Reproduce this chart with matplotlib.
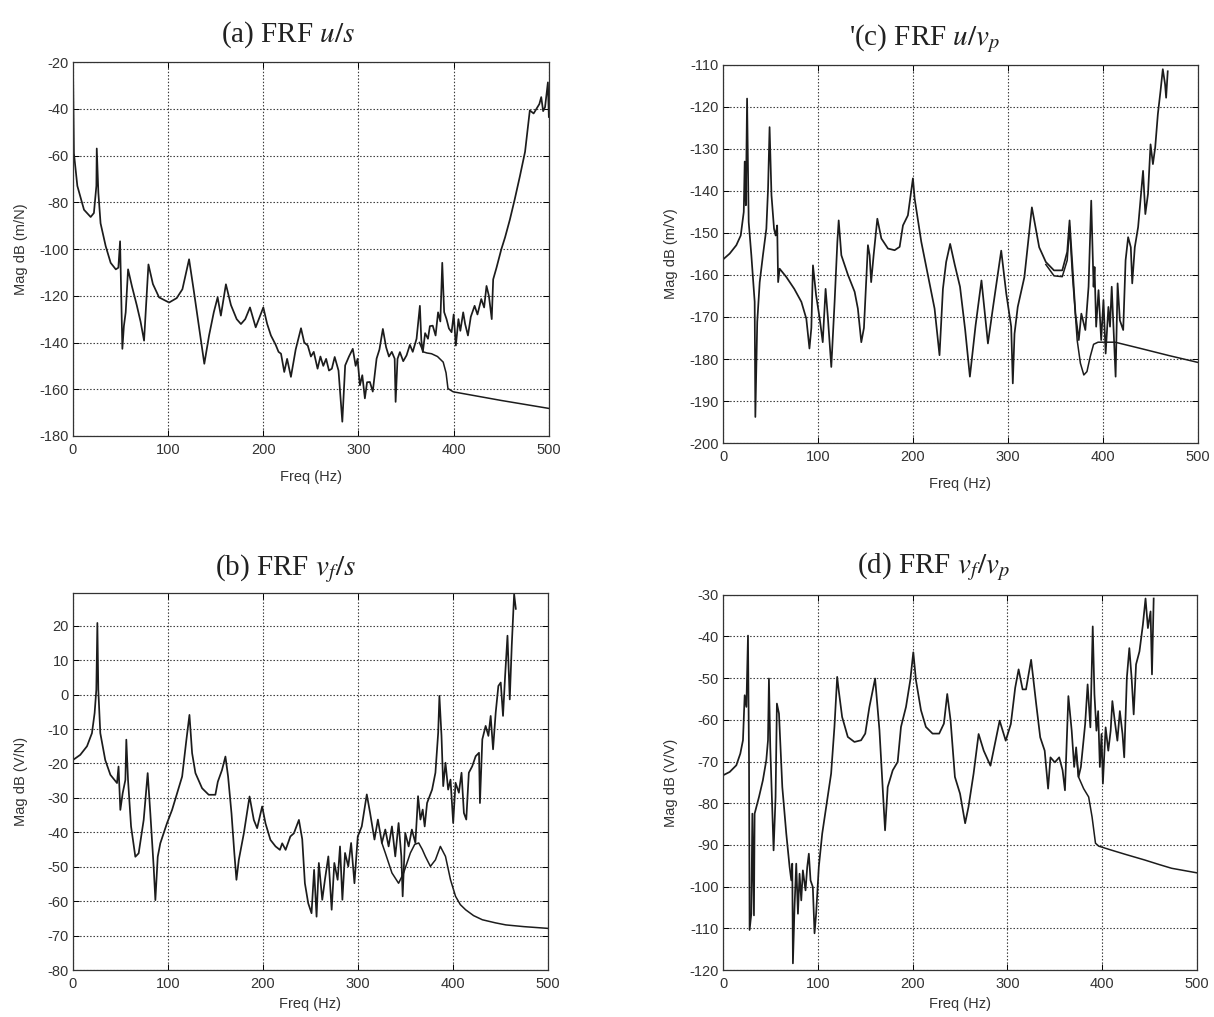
import matplotlib
matplotlib.use('Agg')
import matplotlib.pyplot as plt
import numpy as np

plt.rcParams['font.family'] = ['Liberation Sans', 'DejaVu Sans']
plt.rcParams['mathtext.fontset'] = 'stix'
plt.rcParams['axes.unicode_minus'] = False

# (freq Hz, magnitude dB)
# panel (a) FRF u/s : measured curve and model curve where it departs
a_meas = [(0, -20), (1, -59), (4.6, -73), (11.6, -83.2), (18.6, -86.3), (22, -84.6), (24.6, -73),
          (25, -57), (26.7, -76), (29, -89), (34.4, -98.8), (39.6, -105.9), (45, -108.7), (47.7, -108),
          (49.5, -96.7), (51.9, -142.7), (53.5, -133), (55.4, -127.1), (57.9, -108.7), (62, -116),
          (67, -124), (71, -131), (74.7, -139.2), (79.3, -106.6), (84, -115), (90.5, -120.7),
          (101, -122.9), (109, -121), (115, -117.2), (122, -104.4), (127, -118), (132, -132),
          (138, -149.1), (143, -137), (148, -127), (152, -120.7), (155.4, -128.5), (160.7, -115.1),
          (166, -124), (172, -130), (176.5, -132.1), (181, -130), (186, -125), (192, -133.5),
          (200, -125), (204, -132), (208, -137), (213, -141), (216, -144), (218.6, -144.8), (222, -152.6),
          (225, -147), (229, -154.7), (234, -143), (239.6, -133.9), (243, -140), (246.7, -141.3),
          (250, -146), (253, -144), (257, -151.2), (260, -146), (263, -150), (266, -147), (269, -152),
          (272, -151.2), (275, -146.2), (279, -152), (283, -173.9), (286, -149.8), (290, -146),
          (294, -142.7), (297, -150), (299, -147), (301.5, -158.3), (304, -154), (306.7, -163.9),
          (309, -157), (312, -156.9), (315, -161), (319, -146.9), (322, -143), (325.6, -134.2),
          (329, -142), (332, -146), (335, -144), (338, -146.9), (339, -165.4), (341, -147),
          (343.5, -144.1), (347, -148), (350.5, -145.5), (354, -141), (357, -144), (361, -138.4),
          (364.5, -124.3), (366, -139), (367.6, -144.1), (370, -136), (373, -138.4), (375, -133),
          (378, -132.8), (381, -137), (383.6, -127.1), (386, -131), (388, -105.9), (390, -127),
          (392.5, -130), (395, -134), (397.8, -135.6), (400, -128), (402.3, -141.3), (405, -130),
          (407, -135), (410, -127.1), (412, -132), (415, -137), (418, -129), (422, -124.3), (425, -128),
          (429, -121.4), (432, -125), (434.5, -115.8), (437, -120), (440, -130), (441.5, -113),
          (445, -108), (450, -100.2), (454, -95), (459, -87.5), (464, -79), (469.5, -69), (475, -58.4),
          (480, -40.7), (484, -42), (487, -40), (490, -38), (492, -35), (494, -41), (496, -39.3),
          (499, -28.7), (500, -43.5)]
a_model = [(364, -140), (368, -144), (372, -144.5), (376.7, -144.8), (383, -146), (389, -148.4),
           (392, -153), (394, -159.7), (399.5, -161.1), (420, -162.6), (450, -164.8), (475, -166.5),
           (500, -168.2)]

# panel (b) FRF vf/s
b_meas = [(0, -19), (7.7, -17.5), (14.8, -15), (20, -11.2), (22.8, -5.4), (24.6, 1.4), (25.7, 20.8),
          (26.7, 1.4), (28.8, -11.2), (34, -19), (39.4, -23.3), (46.4, -25.7), (48, -20.9), (49.9, -33.5),
          (52.4, -28.6), (55.2, -24.8), (56.2, -13.1), (58, -24.8), (61.2, -38.3), (65.7, -47.1),
          (69.2, -46.1), (74.5, -36.4), (78.7, -22.8), (81.5, -34.5), (85, -50), (86.8, -59.7),
          (89.3, -47.1), (92, -43.2), (99, -37.4), (104.4, -33.5), (109.7, -28.6), (115, -23.8),
          (119.5, -13.1), (122.7, -5.9), (125.5, -17), (129, -22.8), (136, -27.2), (143, -29.1),
          (150, -29.1), (152.6, -25.3), (157, -21.9), (160.6, -18), (163.4, -23.8), (167, -34.5),
          (170, -46.1), (172.2, -53.8), (174.7, -48), (180, -40.3), (186, -29.6), (190.5, -36.4),
          (194, -38.8), (199.3, -32.5), (202.8, -37.4), (208, -42.2), (213.4, -44.1), (218, -45.1),
          (220.4, -43.2), (224, -45.1), (229, -41.2), (232.7, -40.3), (238, -36.4), (241.5, -42),
          (244.3, -54.8), (247.8, -60.6), (251.3, -63.5), (254, -50.9), (256.6, -64.5), (259, -48.9),
          (262.6, -59.6), (265.4, -53.8), (269, -47), (272.5, -62.5), (275.3, -48.9), (278.8, -53.8),
          (281.3, -44.1), (283.8, -59.6), (286.6, -46), (290, -49.9), (293, -43.1), (296.5, -54.8),
          (300, -41.2), (304.2, -38.3), (309.5, -29), (313, -34.4), (317.6, -42.1), (321.2, -36.3),
          (325.4, -43.1), (329, -39.2), (332.5, -44.1), (336, -38.3), (339.5, -47), (343, -37.3),
          (345.9, -47), (347.3, -58.6), (350, -40.2), (353.6, -44.1), (357, -39.2), (360.7, -43.1),
          (363.5, -29.5), (366, -36.3), (368.4, -33.4), (370.5, -38.3), (373, -31.5), (378.3, -27.6),
          (381.8, -22.7), (384.7, -11.1), (386, -0.4), (388.2, -12), (390, -26.6), (392.4, -19.8),
          (395.2, -27.6), (397.7, -24.7), (400.5, -37.3), (403, -25.6), (406.5, -28.5), (409.3, -22.7),
          (411.8, -34.4), (414.3, -36.3), (417, -22.7), (420.6, -20.8), (424.2, -17.9), (427.7, -16.9),
          (428.7, -31.5), (431.2, -13), (434.7, -9.1), (437.6, -12), (440, -6.2), (442.5, -15.9),
          (445.3, -5.2), (448.1, 2.5), (450.6, 3.5), (453, -6.2), (455.2, 5.4), (457.7, 17.1),
          (460.1, -1.4), (462.2, 14.2), (464.7, 29.2), (466.5, 24.9)]
b_model = [(325.4, -43.1), (329, -46), (336, -51.8), (343, -54.8), (348.3, -51.8), (355.4, -46),
           (360, -43.5), (364.2, -43.1), (368, -45), (371.2, -47), (376.5, -49.9), (381.8, -48),
           (387, -44.1), (392.4, -47), (397.7, -53.8), (403, -58.6), (408, -61), (413.6, -62.5),
           (422, -64.2), (431.2, -65.4), (445, -66.3), (456, -66.9), (475, -67.4), (500, -67.9)]

# panel (c) FRF u/vp
c_meas = [(0, -156.3), (7, -154.9), (14, -152.9), (18.6, -150.6), (21.8, -145), (22.8, -133),
          (24, -143.4), (25.3, -118), (27, -147.4), (29.8, -155.3), (33.3, -166.4), (34, -193.8),
          (36, -171.2), (38.6, -161.7), (42, -155.3), (45.6, -149), (47.4, -139.4), (49, -124.8),
          (51, -141), (53.7, -149), (55.4, -150.6), (57, -148.2), (58, -161.7), (59.6, -158.5),
          (66.7, -160.5), (75, -163.3), (82.5, -166.4), (87.7, -170.4), (91, -177.5), (93, -172.6),
          (94.7, -157.7), (98, -164.8), (101.8, -170.4), (105, -176), (108, -163.3), (110.5, -170.4),
          (114, -181.9), (117.5, -166.4), (120.4, -152.1), (121.8, -147), (124.6, -155.3), (131.6, -160),
          (138.6, -164), (142, -168), (145.6, -176), (148.4, -172.6), (152.6, -152.9), (154.4, -155.3),
          (156, -161.7), (158.6, -155.3), (162.5, -146.6), (166.7, -151.3), (173.7, -153.7),
          (180.7, -154.1), (186, -153.3), (189.5, -148.2), (194.7, -145.8), (200, -137), (201.8, -141.8),
          (208.8, -152.1), (215.8, -160), (222.8, -168), (228, -179.1), (231.6, -163.3), (235, -156.9),
          (239.2, -152.6), (244, -157.5), (249.6, -162.8), (255, -173), (260, -184.2), (266, -172),
          (272.2, -161.3), (279, -176.3), (284.4, -167.6), (293, -154.2), (298.3, -164.4),
          (303.5, -172.3), (305.2, -185.8), (307, -174), (310.4, -167.6), (317.4, -160.5),
          (325.3, -143.9), (333, -153.4), (340, -156.9), (348.6, -158.9), (357.3, -158.9),
          (362.5, -154.5), (365, -147), (367.7, -156.5), (371.2, -169.2), (374.7, -175.5),
          (377.4, -169.2), (381.6, -173.1), (385, -162.8), (387.8, -142.3), (390.3, -162.8),
          (391.3, -158.1), (393, -172.3), (395.5, -163.6), (398.3, -175.5), (400.7, -166), (403, -178.7),
          (405.9, -167.6), (407.6, -172.3), (409.4, -162.8), (411.8, -175.5), (413.5, -184.2),
          (415.6, -162), (418, -170.8), (421.5, -173.1), (424, -156.5), (426.7, -151), (429.5, -153.4),
          (431, -162), (433.7, -153.4), (437.2, -148.6), (440, -141.5), (442.4, -135.2), (444.8, -145.5),
          (447.6, -140.7), (450.3, -128.9), (452.8, -133.6), (455.2, -129.6), (458, -121.7),
          (460.8, -116.2), (463.2, -111), (465.6, -114.6), (466.7, -117.8), (468.4, -111.5)]
c_model = [(340, -157.5), (348.6, -160.2), (357.3, -160.4), (362.5, -156.5), (365, -148.5),
           (368, -160), (371, -169), (373, -175.5), (376.4, -181), (380, -183.8), (383.3, -183),
           (386.8, -179.4), (390.3, -176.5), (395, -176), (413, -176), (440, -177.5), (470, -179.2),
           (500, -180.8)]

# panel (d) FRF vf/vp
d_meas = [(0, -73.3), (7, -72.5), (14, -70.9), (18.2, -68.1), (21, -64.9), (22.8, -54.1), (24.6, -56.9),
          (26.3, -39.8), (27.4, -70.5), (28, -110.4), (29.8, -106.5), (30.9, -82.5), (32.6, -106.9),
          (33.3, -82.5), (37.9, -78.5), (42, -74.5), (45.6, -69.7), (47.4, -64.9), (48.4, -50.1),
          (49.8, -66.5), (52, -82.5), (53.3, -91.3), (55.4, -78.5), (56.8, -56.1), (59, -58.5),
          (62.5, -76.1), (66.7, -87.3), (70.2, -95.3), (72, -98.5), (73, -94.5), (73.7, -118.4),
          (75.4, -104.9), (77.2, -94.5), (79, -106.5), (80.7, -96.9), (82.5, -103.3), (84.2, -96.1),
          (87, -100.9), (88.8, -95.3), (90.5, -92.1), (92.3, -98.5), (94.7, -100.1), (96.5, -111.2),
          (98.2, -106.5), (101, -95.3), (104.6, -87.3), (108.8, -80.9), (114, -72.9), (117.5, -61.7),
          (120.4, -49.7), (122, -52.9), (125.6, -59.3), (131.6, -64.1), (138.6, -65.3), (145.6, -64.9),
          (150, -63.3), (154.4, -56.9), (160.4, -50.1), (165, -62.5), (168.4, -76.1), (170.9, -86.5),
          (173.7, -76.1), (179, -72.1), (184.2, -70.1), (187.7, -61.7), (193, -56.9), (197.5, -50.5),
          (200.7, -43.8), (203.5, -50.5), (208.8, -57.7), (214, -61.7), (221, -63.3), (228, -63.3),
          (233, -60.9), (236.5, -53.8), (240, -60.1), (244.6, -73.7), (250, -77.7), (255.4, -84.8),
          (258.9, -80.9), (264.3, -72.9), (269.6, -63.4), (275, -67.4), (282.1, -71), (287.5, -65),
          (291.8, -60.2), (298.2, -65), (303.6, -61), (308.2, -52.3), (311.8, -47.9), (316, -52.7),
          (319.6, -52.7), (325, -45.6), (330.4, -56.3), (334.6, -64.2), (339.3, -67.4), (342.9, -76.5),
          (345.4, -69), (350, -70.2), (354.6, -69), (358.2, -72.1), (360.7, -76.9), (364.3, -54.3),
          (367.8, -62.6), (370.4, -71.3), (372.5, -66.6), (375, -73.7), (377.5, -71.3), (382, -61),
          (384.6, -51.5), (387.5, -61.8), (390, -37.6), (391.8, -53.9), (393.9, -62.6), (395.7, -57.9),
          (397.5, -71.3), (399.3, -63.4), (400.7, -75.3), (403.6, -61.8), (406.4, -67.4), (408.9, -62.6),
          (410.7, -55.5), (413.2, -60.2), (416, -65), (418.6, -57.9), (421.4, -63.4), (423.2, -69),
          (426, -49.9), (428.6, -42.8), (431, -49.9), (433.2, -58.7), (435.7, -46.7), (439.3, -43.6),
          (442.9, -37.2), (445.7, -30.9), (448.2, -38), (451, -34), (452.5, -49.1), (454.3, -30.9)]
d_model = [(372.5, -68), (375, -73.7), (380.4, -76.5), (385.7, -78.5), (389.3, -83.3), (392.9, -89.6),
           (396.4, -90.3), (409, -91.2), (425, -92.3), (444.6, -93.6), (460, -94.7), (473.2, -95.6),
           (500, -96.7)]

titles = ['(a) FRF $u/s$', '(b) FRF $v_f/s$', "'(c) FRF $u/v_p$", '(d) FRF $v_f/v_p$']
ylabels = ['Mag dB (m/N)', 'Mag dB (V/N)', 'Mag dB (m/V)', 'Mag dB (V/V)']
ylims = [(-180, -20), (-80, 29.5), (-200, -110), (-120, -30)]
yticks = [np.arange(-180, -19, 20), np.arange(-80, 21, 10),
          np.arange(-200, -109, 10), np.arange(-120, -29, 10)]
xticks = np.arange(0, 501, 100)

fig = plt.figure(figsize=(12.14, 10.17), dpi=100)

# axes rectangles in figure fractions, title centre x / baseline y, xlabel offset
rects = [[0.0601, 0.5713, 0.392, 0.3677], [0.0601, 0.0462, 0.391, 0.3707],
         [0.5956, 0.5644, 0.391, 0.3717], [0.5956, 0.0462, 0.3904, 0.369]]
title_pos = [(0.237, 0.9587), (0.235, 0.4346), (0.762, 0.9558), (0.769, 0.4366)]
xlabel_y = [-0.09, -0.072, -0.09, -0.072]

series = [(a_meas, a_model), (b_meas, b_model), (c_meas, c_model), (d_meas, d_model)]

for i, (meas, model) in enumerate(series):
    ax = fig.add_axes(rects[i])
    f, m = np.array(meas).T
    ax.plot(f, m, color='#1c1c1c', lw=1.25)
    f2, m2 = np.array(model).T
    ax.plot(f2, m2, color='#1c1c1c', lw=1.1)
    ax.set_xlim(0, 500)
    ax.set_ylim(*ylims[i])
    ax.set_xticks(xticks)
    ax.set_yticks(yticks[i])
    ax.grid(True, color='#3a3a3a', linestyle=(0, (1.3, 1.7)), lw=0.8)
    ax.tick_params(direction='in', top=True, right=True, length=4, width=0.7,
                   labelsize=10.5, labelcolor='#333333', pad=3)
    ax.tick_params(axis='x', pad=5)
    for s in ax.spines.values():
        s.set_linewidth(0.9)
        s.set_color('#333333')
    ax.set_ylabel(ylabels[i], fontsize=10.5, color='#333333')
    ax.set_xlabel('Freq (Hz)', fontsize=10.5, color='#333333')
    ax.yaxis.set_label_coords(-0.095, 0.5)
    ax.xaxis.set_label_coords(0.5, xlabel_y[i])
    fig.text(title_pos[i][0], title_pos[i][1], titles[i], ha='center', va='baseline',
             family='Liberation Serif', fontsize=21, color='#222222')

fig.savefig('out.png', dpi=100)
